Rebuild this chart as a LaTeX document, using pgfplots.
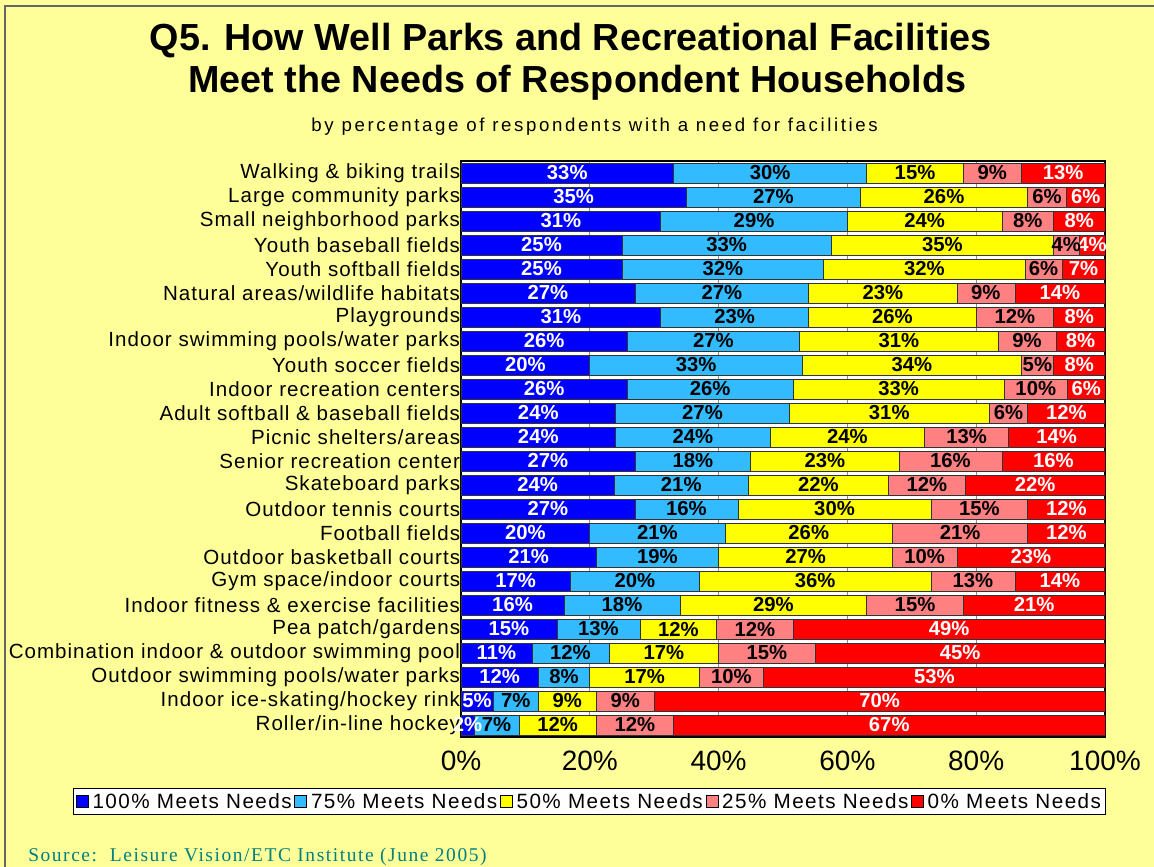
\documentclass[border=0pt]{standalone}
\usepackage{pgfplots}
\pgfplotsset{compat=1.18}
\usepackage{pgfplotstable}
\usepackage{fontspec}
\setmainfont{Liberation Sans}
\newfontfamily\catfont[LetterSpace=5]{Liberation Sans}
\newfontfamily\legfont[LetterSpace=7]{Liberation Sans}
\newfontfamily\subfont[LetterSpace=14]{Liberation Sans}
\newfontfamily\srcfont[LetterSpace=8]{Liberation Serif}
\definecolor{bgY}{RGB}{255,255,153}
\definecolor{cA}{RGB}{0,0,255}
\definecolor{cB}{RGB}{51,187,255}
\definecolor{cC}{RGB}{255,255,0}
\definecolor{cD}{RGB}{255,128,128}
\definecolor{cE}{RGB}{255,0,0}
\definecolor{srcC}{RGB}{0,128,128}

% a..e: segment widths (each row fills 100);
% la..le: the percentages printed on the bars
\pgfplotstableread{
y a b c d e la lb lc ld le
0 33 30 15 9 13 33 30 15 9 13
1 35 27 26 6 6 35 27 26 6 6
2 31 29 24 8 8 31 29 24 8 8
3 25 32.5 34.5 4 4 25 33 35 4 4
4 25 31.3 31.3 5.7 6.7 25 32 32 6 7
5 27 27 23 9 14 27 27 23 9 14
6 31 23 26 12 8 31 23 26 12 8
7 25.8 26.8 30.8 9 7.6 26 27 31 9 8
8 20 33 34 5 8 20 33 34 5 8
9 25.8 25.8 32.7 9.9 5.8 26 26 33 10 6
10 24 27 31 6 12 24 27 31 6 12
11 24 24 24 13 15 24 24 24 13 14
12 27 18 23 16 16 27 18 23 16 16
13 23.8 20.8 21.8 11.9 21.7 24 21 22 12 22
14 27 16 30 15 12 27 16 30 15 12
15 20 21 26 21 12 20 21 26 21 12
16 21 19 27 10 23 21 19 27 10 23
17 17 20 36 13 14 17 20 36 13 14
18 16 18 29 15 22 16 18 29 15 21
19 14.9 12.9 11.9 11.9 48.4 15 13 12 12 49
20 11 12 17 15 45 11 12 17 15 45
21 12 8 17 10 53 12 8 17 10 53
22 5 7 9 9 70 5 7 9 9 70
23 2 7 12 12 67 2 7 12 12 67
}\data

\begin{document}
\begin{tikzpicture}
\path[use as bounding box, clip] (0,0) rectangle (865.5pt,650.25pt);
\fill[bgY] (0,0) rectangle (865.5pt,650.25pt);
\draw[black!60, line width=1.2pt] (3.75pt,-10pt) rectangle (880pt,645.75pt);
\node[font=\bfseries\fontsize{28.3}{32}\selectfont] at (428pt,620pt) {Q5. How Well Parks and Recreational Facilities};
\node[font=\bfseries\fontsize{28.3}{32}\selectfont] at (433pt,588pt) {Meet the Needs of Respondent Households};
\node[font=\subfont\fontsize{14}{16}\selectfont] at (446pt,555pt) {by percentage of respondents with a need for facilities};
\node[font=\srcfont\fontsize{14.6}{17}\selectfont, text=srcC, anchor=base west, inner sep=0pt] at (21pt,4pt) {Source:\ \ Leisure Vision/ETC Institute (June 2005)};
\begin{axis}[
  at={(345.75pt,97.5pt)}, anchor=south west,
  width=483pt, height=432pt, scale only axis,
  xbar stacked, bar width=0.82,
  xmin=0, xmax=100, ymin=-0.5, ymax=23.5, y dir=reverse,
  axis background/.style={fill=white},
  axis line style={black, line width=0.8pt},
  xmajorgrids, grid style={black!45, line width=0.5pt},
  xtick={0,20,40,60,80,100},
  xticklabels={0\%,20\%,40\%,60\%,80\%,100\%},
  xticklabel style={font=\fontsize{21}{24}\selectfont, yshift=-7pt},
  major tick length=0pt,
  ytick={0,...,23},
  yticklabels={Walking \& biking trails, Large community parks, Small neighborhood parks, Youth baseball fields, Youth softball fields, Natural areas/wildlife habitats, Playgrounds, Indoor swimming pools/water parks, Youth soccer fields, Indoor recreation centers, Adult softball \& baseball fields, Picnic shelters/areas, Senior recreation center, Skateboard parks, Outdoor tennis courts, Football fields, Outdoor basketball courts, Gym space/indoor courts, Indoor fitness \& exercise facilities, Pea patch/gardens, Combination indoor \& outdoor swimming pool, Outdoor swimming pools/water parks, Indoor ice-skating/hockey rink, Roller/in-line hockey},
  yticklabel style={font=\catfont\fontsize{15.4}{17}\selectfont, inner sep=0pt, xshift=-0.5pt},
  every axis plot/.append style={draw=black!80, line width=0.5pt},
  point meta=explicit,
  nodes near coords={\pgfmathprintnumber{\pgfplotspointmeta}\%},
  /pgf/number format/assume math mode=true,
  every node near coord/.append style={font=\bfseries\fontsize{15.2}{17}\selectfont, anchor=center, inner sep=0pt},
  legend columns=5,
  legend style={at={(0.2,-0.112)}, anchor=center, draw=black, line width=0.8pt, fill=white,
    font=\legfont\fontsize{15.5}{17}\selectfont, inner sep=1.5pt, row sep=0pt,
    /tikz/every odd column/.append style={column sep=1pt}},
  legend image code/.code={\draw[#1, draw=black, line width=0.5pt] (0pt,-4.5pt) rectangle (9pt,4.5pt);},
]
\addplot[fill=cA, nodes near coords style={text=white}] table[x=a, y=y, meta=la] {\data};
\addplot[fill=cB, nodes near coords style={text=black}] table[x=b, y=y, meta=lb] {\data};
\addplot[fill=cC, nodes near coords style={text=black}] table[x=c, y=y, meta=lc] {\data};
\addplot[fill=cD, nodes near coords style={text=black}] table[x=d, y=y, meta=ld] {\data};
\addplot[fill=cE, nodes near coords style={text=white}] table[x=e, y=y, meta=le] {\data};
\addlegendentry{100\% Meets Needs}
\addlegendentry{75\% Meets Needs}
\addlegendentry{50\% Meets Needs}
\addlegendentry{25\% Meets Needs}
\addlegendentry{0\% Meets Needs}
\end{axis}
\end{tikzpicture}
\end{document}
